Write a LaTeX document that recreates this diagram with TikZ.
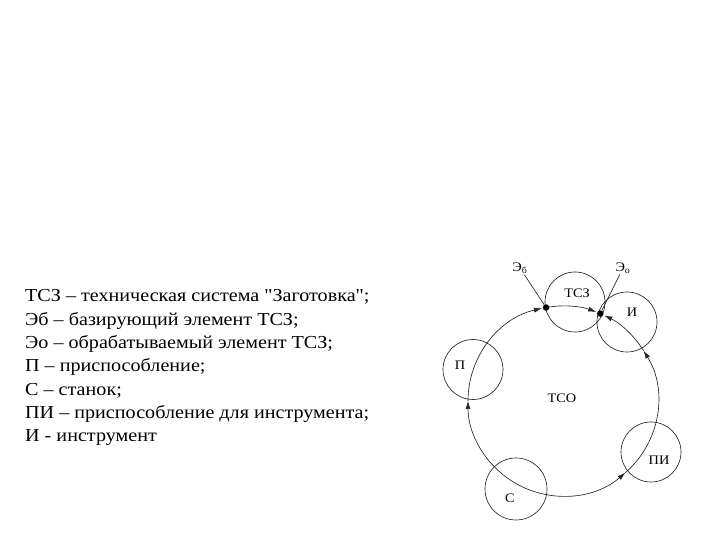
\documentclass[tikz,border=0pt]{standalone}
\usepackage{fontspec}
\setmainfont{Liberation Serif}
\newfontfamily\wideserif{Liberation Serif}[FakeStretch=1.1]
\usetikzlibrary{arrows.meta,calc}
\begin{document}
\begin{tikzpicture}[x=1pt,y=1pt,
  ring/.style={draw=black!85,line width=0.65pt,circle,minimum size=60pt,inner sep=0pt},
  lab/.style={font=\wideserif\fontsize{13}{15}\selectfont,inner sep=1pt},
  legend/.style={font=\wideserif\fontsize{18.3}{21}\selectfont,anchor=base west,inner sep=0pt},
  flow/.style={draw=black!85,line width=0.65pt,-{Latex[length=8pt,width=5pt]}},
  thin/.style={draw=black!85,line width=0.65pt},
  dot/.style={circle,fill=black,inner sep=0pt,minimum size=6.5pt}]
\useasboundingbox (0,0) rectangle (720,540);
\fill[white] (0,0) rectangle (720,540);
% legend
\node[legend] (t1) at (25,238) {ТСЗ – техническая система \char34Заготовка\char34;};
\node[legend] (t2) at (25,214.7) {Эб – базирующий элемент ТСЗ;};
\node[legend] (t3) at (25,191.4) {Эо – обрабатываемый элемент ТСЗ;};
\node[legend] (t4) at (25,168.1) {П – приспособление;};
\node[legend] (t5) at (25,144.8) {С – станок;};
\node[legend] (t6) at (25,121.5) {ПИ – приспособление для инструмента;};
\node[legend] (t7) at (25,98.2) {И - инструмент};
% big circle
\coordinate (O) at (563,139);
\def\R{95}
\coordinate (s) at ($(O)+(240:\R)$);
\coordinate (pin) at ($(O)+(180:\R)$);
\coordinate (ebout) at ($(O)+(100.3:\R)$);
\coordinate (pii) at ($(O)+(311:\R)$);
\coordinate (iin) at ($(O)+(392:\R)$);
% small circles
\node[ring] (tsz) at (575,238) {};
\node[ring] (ii) at (627,218) {};
\node[ring] (pp) at (473,170.5) {};
\node[ring] (pi) at (651,88) {};
\node[ring,minimum size=62pt] (cc) at (516,51) {};
% arcs
\draw[flow] (s) arc[start angle=240,end angle=180,radius=\R];
\draw[flow] (pin) arc[start angle=180,end angle=102.8,radius=\R];
\draw[flow] (ebout) arc[start angle=100.3,end angle=69.6,radius=\R];
\draw[flow] (s) arc[start angle=240,end angle=311,radius=\R];
\draw[flow] (pii) arc[start angle=311,end angle=392,radius=\R];
\draw[flow] (iin) arc[start angle=392,end angle=424.2,radius=\R];
% dots
\node[dot] (db) at ($(O)+(100.3:\R)$) {};
\node[dot] (do) at ($(O)+(66.9:\R)$) {};
% labels
\node[lab] (ltsz) at (577,247) {ТСЗ};
\node[lab] (lii) at (632,228) {И};
\node[lab] (lpp) at (460,175) {П};
\node[lab] (ltso) at (562,142) {ТСО};
\node[lab] (lpi) at (659,80) {ПИ};
\node[lab] (lcc) at (510,42) {С};
\node[lab] (leb) at (520,272) {Э\textsubscript{б}};
\node[lab] (leo) at (623,272) {Э\textsubscript{о}};
\draw[thin] (leb) -- (db);
\draw[thin] (leo) -- (do);
\end{tikzpicture}
\end{document}
